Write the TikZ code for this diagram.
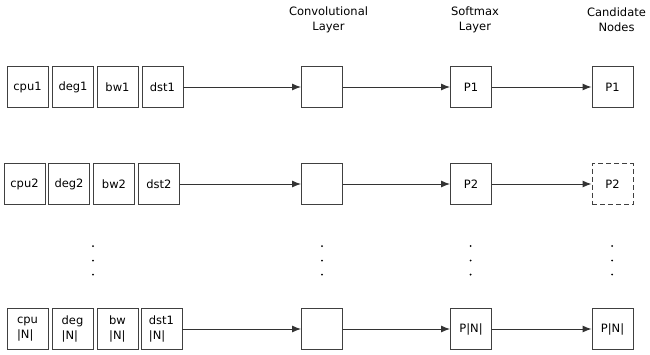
\documentclass[tikz,border=0pt]{standalone}
\usepackage{fontspec}
\setmainfont{DejaVu Sans}
\usetikzlibrary{arrows.meta}
\begin{document}
\begin{tikzpicture}[x=1pt,y=-1pt,
  font=\fontsize{11.5}{15}\selectfont,
  cell/.style={draw=black!75,line width=0.9pt,minimum width=41pt,minimum height=41pt,inner sep=1pt},
  dcell/.style={cell,dashed,dash pattern=on 5pt off 3pt},
  hdr/.style={align=center,inner sep=0pt},
  con/.style={-{Latex[length=9pt,width=7pt]},line width=1pt,draw=black!80},
  dotn/.style={circle,fill=black,inner sep=0pt,minimum size=2pt}]
\useasboundingbox (0,0) rectangle (650,354);
% headers
\node[hdr] (h1) at (328.5,19.5) {Convolutional\\Layer};
\node[hdr] (h2) at (475,19.5) {Softmax\\Layer};
\node[hdr] (h3) at (616.5,19.5) {Candidate\\Nodes};
% row 1
\node[cell] (a1) at (27.5,87) {cpu1};
\node[cell] (b1) at (73,87) {deg1};
\node[cell] (c1) at (117.5,87) {bw1};
\node[cell] (d1) at (162.5,87) {dst1};
\node[cell] (e1) at (322,87) {};
\node[cell] (f1) at (471,87) {P1};
\node[cell] (g1) at (612.5,87) {P1};
% row 2
\node[cell] (a2) at (24.5,184) {cpu2};
\node[cell] (b2) at (69,184) {deg2};
\node[cell] (c2) at (114,184) {bw2};
\node[cell] (d2) at (159,184) {dst2};
\node[cell] (e2) at (322,184) {};
\node[cell] (f2) at (471,184) {P2};
\node[dcell] (g2) at (612.5,184) {P2};
% row 3
\node[cell,align=left] (a3) at (27.5,329) {cpu\\|N|};
\node[cell,align=left] (b3) at (72.5,329) {deg\\|N|};
\node[cell,align=left] (c3) at (117.5,329) {bw\\|N|};
\node[cell,align=left] (d3) at (161.5,329) {dst1\\|N|};
\node[cell] (e3) at (322,329) {};
\node[cell] (f3) at (471,329) {P|N|};
\node[cell] (g3) at (612.5,329) {P|N|};
% arrows
\foreach \r in {1,2,3}{
  \draw[con] (d\r) -- (e\r);
  \draw[con] (e\r) -- (f\r);
  \draw[con] (f\r) -- (g\r);
}
% dots
\foreach \x/\n in {93/p,322/q,470.5/r,612/s}{
  \node[dotn] (\n1) at (\x,246) {};
  \node[dotn] (\n2) at (\x,260.5) {};
  \node[dotn] (\n3) at (\x,274.5) {};
}
\end{tikzpicture}
\end{document}
